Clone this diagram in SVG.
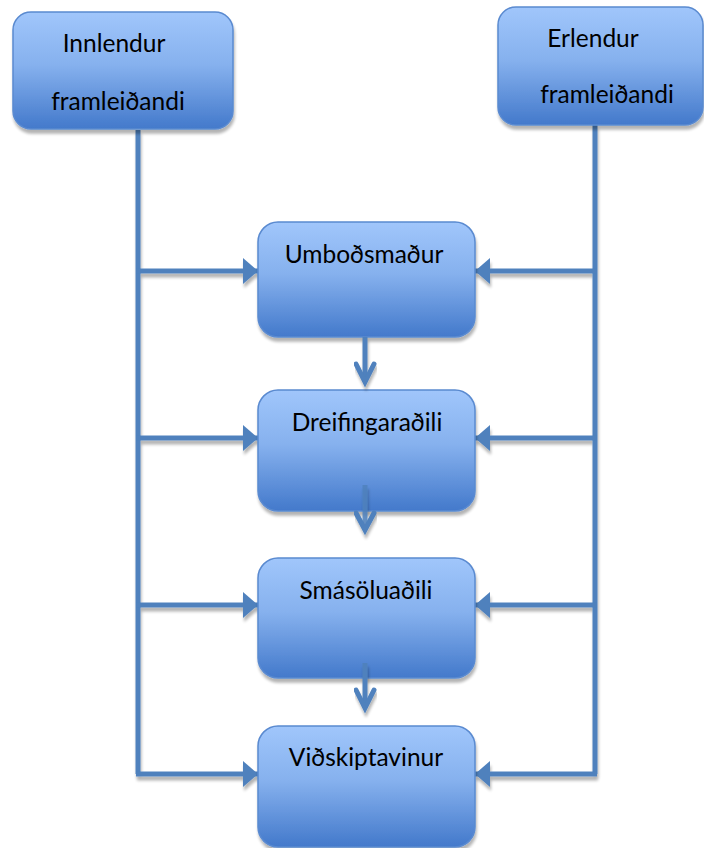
<svg xmlns="http://www.w3.org/2000/svg" width="704" height="848" viewBox="0 0 704 848">
<defs>
<linearGradient id="g" x1="0" y1="0" x2="0" y2="1">
<stop offset="0" stop-color="#A0C6FB"/>
<stop offset="0.45" stop-color="#86B1EE"/>
<stop offset="1" stop-color="#4379CB"/>
</linearGradient>
<filter id="sh" x="-10%" y="-10%" width="125%" height="130%">
<feGaussianBlur in="SourceAlpha" stdDeviation="1.5"/>
<feOffset dx="1" dy="4" result="b"/>
<feComponentTransfer><feFuncA type="linear" slope="0.3"/></feComponentTransfer>
<feMerge><feMergeNode/><feMergeNode in="SourceGraphic"/></feMerge>
</filter>
<marker id="ah" markerWidth="16" markerHeight="28" refX="15" refY="14" orient="auto" markerUnits="userSpaceOnUse">
<path d="M0,1 L15,14 L0,27 Z" fill="#4F81BD"/>
</marker>
<style>
.box{fill:url(#g);stroke:#5A8AD0;stroke-width:1.5;filter:url(#sh)}
.t{font-family:Lato,"Open Sans","Liberation Sans",sans-serif;font-size:24.5px;fill:#000;text-anchor:middle}
.ln{stroke:#4F81BD;stroke-width:5;fill:none}
.ch{stroke:#4F81BD;stroke-width:5;fill:none;stroke-linecap:round;stroke-linejoin:miter}
</style>
</defs>
<g id="connectors" filter="url(#sh)">
<polyline class="ln" points="138,130 138,774"/>
<polyline class="ln" points="595,125 595,774"/>
<line class="ln" x1="136" y1="271" x2="258" y2="271" marker-end="url(#ah)"/>
<line class="ln" x1="136" y1="438" x2="258" y2="438" marker-end="url(#ah)"/>
<line class="ln" x1="136" y1="605" x2="258" y2="605" marker-end="url(#ah)"/>
<line class="ln" x1="136" y1="774" x2="258" y2="774" marker-end="url(#ah)"/>
<line class="ln" x1="597" y1="271" x2="475" y2="271" marker-end="url(#ah)"/>
<line class="ln" x1="597" y1="438" x2="475" y2="438" marker-end="url(#ah)"/>
<line class="ln" x1="597" y1="605" x2="475" y2="605" marker-end="url(#ah)"/>
<line class="ln" x1="597" y1="774" x2="475" y2="774" marker-end="url(#ah)"/>
</g>
<g id="n1"><rect class="box" x="13" y="12" width="220" height="117" rx="18"/>
<text class="t" x="114" y="52">Innlendur</text><text class="t" x="118" y="110">framleiðandi</text></g>
<g id="n2"><rect class="box" x="498" y="7" width="205" height="118" rx="18"/>
<text class="t" x="593" y="47">Erlendur</text><text class="t" x="607" y="103">framleiðandi</text></g>
<g id="n3"><rect class="box" x="258" y="222" width="217" height="115" rx="20"/>
<text class="t" x="364" y="263">Umboðsmaður</text></g>
<g id="n4"><rect class="box" x="258" y="390" width="217" height="121" rx="20"/>
<text class="t" x="367" y="431">Dreifingaraðili</text></g>
<g id="n5"><rect class="box" x="258" y="558" width="217" height="120" rx="20"/>
<text class="t" x="366" y="599">Smásöluaðili</text></g>
<g id="n6"><rect class="box" x="258" y="726" width="217" height="121" rx="20"/>
<text class="t" x="366" y="766">Viðskiptavinur</text></g>
<g id="down-arrows" filter="url(#sh)">
<line class="ln" x1="365" y1="337" x2="365" y2="382"/>
<polyline class="ch" points="356,364 365,382 374,364"/>
<line class="ln" x1="365" y1="485" x2="365" y2="530" stroke-opacity="0.85"/>
<polyline class="ch" points="356,513 365,530 374,513"/>
<line class="ln" x1="365" y1="663" x2="365" y2="708"/>
<polyline class="ch" points="356,690 365,708 374,690"/>
</g>
</svg>
